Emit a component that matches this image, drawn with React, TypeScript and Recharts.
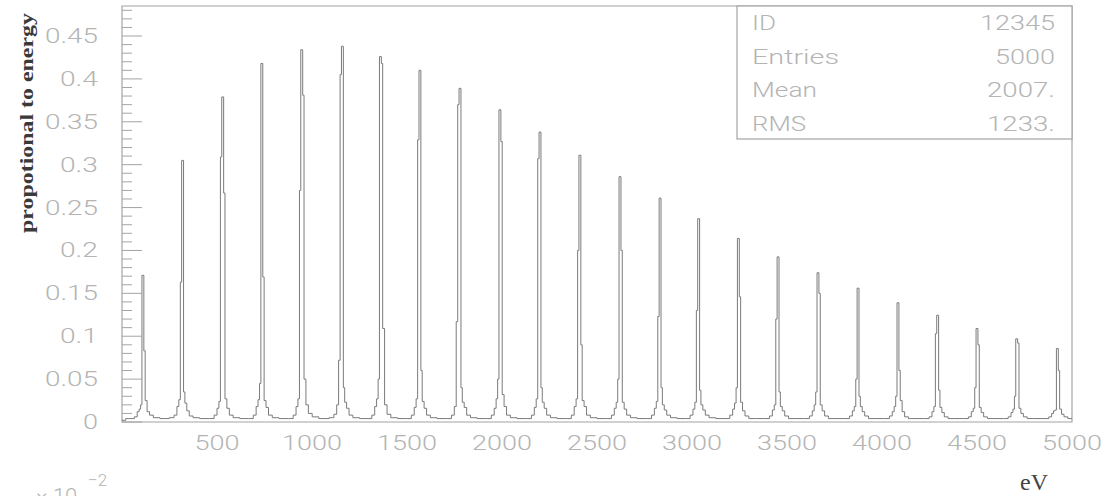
import React from "react";
import { LineChart, Line, XAxis, YAxis, ReferenceArea } from "recharts";

// peak centres in eV
const PEAK_CENTERS = [
  110, 319, 530, 736, 946, 1160, 1360, 1568, 1779, 1989, 2200, 2410,
  2621, 2832, 3035, 3244, 3453, 3663, 3874, 4084, 4293, 4500, 4709, 4923,
];

// bin edges around each peak (eV, relative to the centre)
const PROFILE_OFFSETS = [-70, -45, -30, -20, -12, -5, 5, 12, 22, 35, 55, 90];

// bin contents around each peak, one row per peak
const PEAK_PROFILES = [
  [0.004, 0.006, 0.012, 0.015, 0.02, 0.171, 0.083, 0.025, 0.012, 0.008, 0.005, 0.004],
  [0.005, 0.008, 0.018, 0.026, 0.163, 0.305, 0.035, 0.022, 0.013, 0.007, 0.005, 0.004],
  [0.004, 0.008, 0.016, 0.024, 0.309, 0.379, 0.267, 0.027, 0.016, 0.008, 0.005, 0.004],
  [0.004, 0.008, 0.018, 0.026, 0.045, 0.418, 0.169, 0.025, 0.017, 0.008, 0.005, 0.004],
  [0.004, 0.008, 0.018, 0.027, 0.27, 0.434, 0.381, 0.05, 0.02, 0.01, 0.006, 0.004],
  [0.005, 0.009, 0.02, 0.072, 0.405, 0.438, 0.04, 0.023, 0.016, 0.008, 0.005, 0.004],
  [0.004, 0.008, 0.018, 0.027, 0.05, 0.426, 0.418, 0.109, 0.02, 0.009, 0.005, 0.004],
  [0.004, 0.008, 0.017, 0.027, 0.329, 0.41, 0.06, 0.024, 0.016, 0.008, 0.005, 0.004],
  [0.004, 0.008, 0.018, 0.117, 0.37, 0.389, 0.04, 0.023, 0.017, 0.008, 0.005, 0.004],
  [0.004, 0.008, 0.016, 0.027, 0.05, 0.364, 0.327, 0.032, 0.018, 0.008, 0.005, 0.004],
  [0.004, 0.008, 0.017, 0.027, 0.307, 0.338, 0.04, 0.023, 0.016, 0.008, 0.005, 0.004],
  [0.004, 0.008, 0.018, 0.027, 0.2, 0.311, 0.09, 0.025, 0.018, 0.008, 0.005, 0.004],
  [0.004, 0.008, 0.016, 0.023, 0.05, 0.286, 0.2, 0.023, 0.015, 0.008, 0.005, 0.004],
  [0.004, 0.008, 0.016, 0.024, 0.123, 0.261, 0.04, 0.02, 0.014, 0.008, 0.005, 0.004],
  [0.004, 0.008, 0.015, 0.023, 0.13, 0.237, 0.037, 0.02, 0.014, 0.008, 0.005, 0.004],
  [0.004, 0.008, 0.015, 0.022, 0.04, 0.214, 0.146, 0.023, 0.013, 0.007, 0.004, 0.004],
  [0.004, 0.007, 0.014, 0.02, 0.12, 0.1925, 0.035, 0.018, 0.013, 0.007, 0.004, 0.004],
  [0.004, 0.007, 0.013, 0.02, 0.035, 0.174, 0.15, 0.02, 0.013, 0.007, 0.004, 0.004],
  [0.004, 0.007, 0.013, 0.018, 0.05, 0.156, 0.03, 0.018, 0.012, 0.007, 0.004, 0.004],
  [0.004, 0.007, 0.012, 0.018, 0.03, 0.139, 0.06, 0.025, 0.012, 0.006, 0.004, 0.004],
  [0.004, 0.006, 0.012, 0.018, 0.103, 0.1245, 0.037, 0.017, 0.011, 0.006, 0.004, 0.004],
  [0.004, 0.006, 0.012, 0.016, 0.04, 0.109, 0.09, 0.017, 0.011, 0.006, 0.004, 0.004],
  [0.004, 0.006, 0.011, 0.015, 0.03, 0.097, 0.092, 0.016, 0.01, 0.006, 0.004, 0.004],
  [0.004, 0.006, 0.01, 0.013, 0.014, 0.0856, 0.06, 0.015, 0.009, 0.006, 0.004, 0.004],
];

// flat bins before the first peak: [eV, content]
const LEAD_IN = [
  [0, 0.002],
  [20, 0.004],
];

const Y_TICKS = [
  0, 0.01, 0.02, 0.03, 0.04, 0.05, 0.06, 0.07, 0.08, 0.09, 0.1, 0.11, 0.12,
  0.13, 0.14, 0.15, 0.16, 0.17, 0.18, 0.19, 0.2, 0.21, 0.22, 0.23, 0.24, 0.25,
  0.26, 0.27, 0.28, 0.29, 0.3, 0.31, 0.32, 0.33, 0.34, 0.35, 0.36, 0.37, 0.38,
  0.39, 0.4, 0.41, 0.42, 0.43, 0.44, 0.45, 0.46, 0.47, 0.48,
];
const X_TICKS = [500, 1000, 1500, 2000, 2500, 3000, 3500, 4000, 4500, 5000];

const STAT_LABELS = ["ID", "Entries", "Mean", "RMS"];
const STAT_VALUES = ["12345", "5000", "2007.", "1233."];

const histogram = [
  ...LEAD_IN.map(([e, v]) => ({ e, v })),
  ...PEAK_CENTERS.flatMap((c, i) =>
    PROFILE_OFFSETS.map((o, j) => ({ e: c + o, v: PEAK_PROFILES[i][j] }))
  ),
];

const LIGHT = "#b4b4b4";
const FRAME = "#a4a4a4";
const THIN_FONT = "Roboto, 'DejaVu Sans', sans-serif";

// rough width of the wide plotter font
const glyphWidth = (s: string) =>
  s.split("").reduce((w, ch) => {
    if (ch === ".") return w + 8;
    if ("itrI".includes(ch)) return w + 9;
    if (ch === "M") return w + 20;
    if ("RS".includes(ch)) return w + 17;
    return w + 15;
  }, 0);

const YTick = (props: any) => {
  const { x, y, payload } = props;
  const v = payload.value as number;
  const major = Math.round(v * 100) % 5 === 0;
  const label = String(v);
  return (
    <g>
      <line x1={x} x2={x + (major ? 20 : 10)} y1={y} y2={y} stroke={FRAME} />
      {major && (
        <text
          x={x - 24}
          y={y + 7}
          textAnchor="end"
          fontSize={20}
          fontWeight={300}
          fontFamily={THIN_FONT}
          fill={LIGHT}
          textLength={glyphWidth(label)}
          lengthAdjust="spacingAndGlyphs"
        >
          {label}
        </text>
      )}
    </g>
  );
};

const XTick = (props: any) => {
  const { x, y, payload } = props;
  const label = String(payload.value);
  return (
    <text
      x={x}
      y={y + 28}
      textAnchor="middle"
      fontSize={20}
      fontWeight={300}
      fontFamily={THIN_FONT}
      fill={LIGHT}
      textLength={glyphWidth(label)}
      lengthAdjust="spacingAndGlyphs"
    >
      {label}
    </text>
  );
};

const App: React.FC = () => {
  return (
    <div style={{ position: "absolute", left: 0, top: 0, width: 1106, height: 496 }}>
      <LineChart
        width={1106}
        height={496}
        data={histogram}
        margin={{ top: 6, right: 34, bottom: 0, left: 0 }}
      >
        <XAxis
          dataKey="e"
          type="number"
          domain={[0, 5000]}
          allowDataOverflow
          ticks={X_TICKS}
          interval={0}
          height={74}
          tickSize={0}
          tickMargin={0}
          axisLine={false}
          tickLine={false}
          tick={XTick}
        />
        <YAxis
          type="number"
          domain={[0, 0.485]}
          allowDataOverflow
          ticks={Y_TICKS}
          interval={0}
          width={122}
          tickSize={0}
          tickMargin={0}
          axisLine={false}
          tickLine={false}
          tick={YTick}
        />
        <Line
          type="stepAfter"
          dataKey="v"
          stroke="#7a7a7a"
          strokeWidth={1}
          dot={false}
          isAnimationActive={false}
        />
        <ReferenceArea
          x1={0}
          x2={5000}
          y1={0}
          y2={0.485}
          fill="none"
          stroke={FRAME}
          strokeWidth={1.2}
          ifOverflow="visible"
        />
      </LineChart>

      <svg
        width={1106}
        height={496}
        style={{ position: "absolute", left: 0, top: 0, pointerEvents: "none" }}
      >
        <rect x={737} y={6} width={335} height={133} fill="#fff" stroke={FRAME} strokeWidth={1.2} />
        {STAT_LABELS.map((s, i) => (
          <g key={s}>
            <text
              x={752}
              y={30 + i * 33.7}
              fontSize={20}
              fontWeight={300}
              fontFamily={THIN_FONT}
              fill={LIGHT}
              textLength={glyphWidth(s)}
              lengthAdjust="spacingAndGlyphs"
            >
              {s}
            </text>
            <text
              x={1055}
              y={30 + i * 33.7}
              textAnchor="end"
              fontSize={20}
              fontWeight={300}
              fontFamily={THIN_FONT}
              fill={LIGHT}
              textLength={glyphWidth(STAT_VALUES[i])}
              lengthAdjust="spacingAndGlyphs"
            >
              {STAT_VALUES[i]}
            </text>
          </g>
        ))}

        <text
          transform="translate(33,123) rotate(-90)"
          textAnchor="middle"
          fontSize={18}
          fontWeight="bold"
          fontFamily="'Liberation Serif', serif"
          fill="#3a3a3a"
          textLength={220}
          lengthAdjust="spacingAndGlyphs"
        >
          propotional to energy
        </text>

        <text x={1020} y={490} fontSize={24} fontFamily="'Liberation Serif', serif" fill="#444">
          eV
        </text>

        <text x={36} y={504} fontSize={22} fontWeight={300} fontFamily={THIN_FONT} fill={LIGHT}>
          × 10
        </text>
        <text x={88} y={486} fontSize={17} fontWeight={300} fontFamily={THIN_FONT} fill={LIGHT}>
          −2
        </text>
      </svg>
    </div>
  );
};

export default App;
